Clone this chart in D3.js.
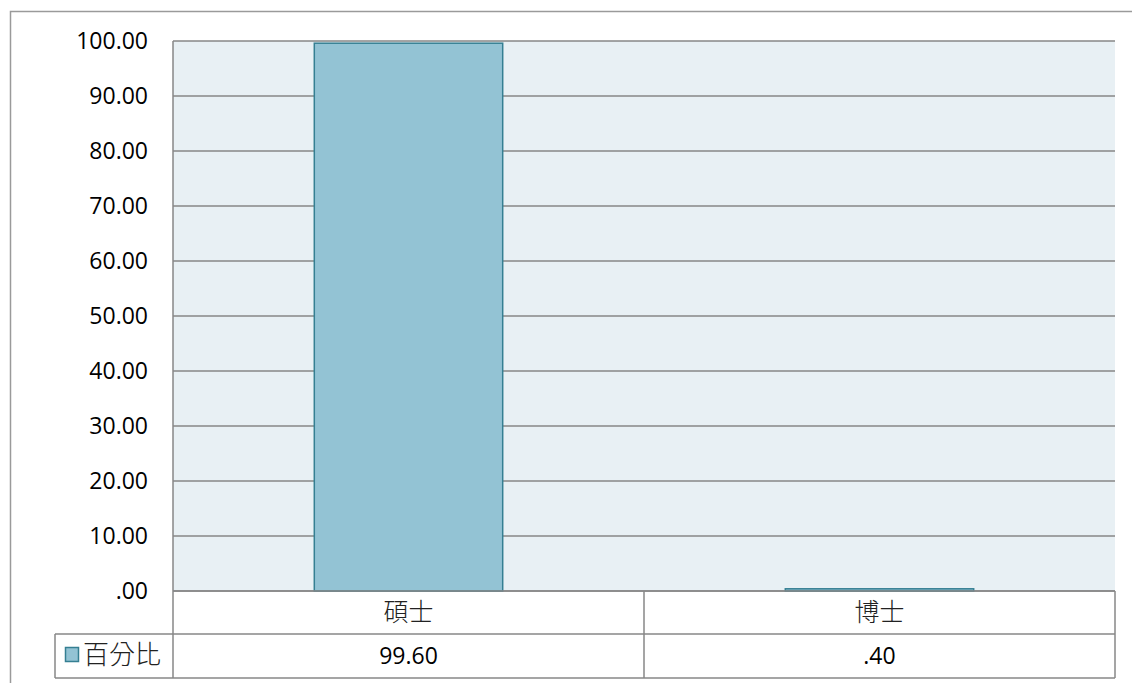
<!DOCTYPE html>
<html><head><meta charset="utf-8">
<script src="https://cdn.jsdelivr.net/npm/d3@7"></script>
<style>html,body{margin:0;padding:0;background:#fff;overflow:hidden}</style>
</head><body>
<script>
const categories = ["碩士", "博士"];
const values = [99.60, 0.40];
const valueLabels = ["99.60", ".40"];
const seriesName = "百分比";
const yTicks = [0, 10, 20, 30, 40, 50, 60, 70, 80, 90, 100];
const yTickLabels = [".00","10.00","20.00","30.00","40.00","50.00","60.00","70.00","80.00","90.00","100.00"];

const W = 1132, H = 683;
const svg = d3.select("body").append("svg").attr("width", W).attr("height", H);
const L = 173, R = 1115, T = 41, B = 591;
const row1 = 634, row2 = 678, legL = 55;
const latin = "'Open Sans', 'Noto Sans', sans-serif";
const cjk = "'Noto Sans CJK TC', sans-serif";
const grid = "#878787";

// outer border
svg.append("rect").attr("x", 10.5).attr("y", 11.5).attr("width", 1140).attr("height", 700)
  .attr("fill", "none").attr("stroke", "#9a9a9a").attr("stroke-width", 1.5);

const x = d3.scaleBand().domain(categories).range([L, R]).paddingInner(0).paddingOuter(0);
const y = d3.scaleLinear().domain([0, 100]).range([B, T]);

svg.append("rect").attr("x", L).attr("y", T).attr("width", R - L).attr("height", B - T).attr("fill", "#E8F0F4");

// grid lines
svg.append("g").selectAll("line").data(yTicks).join("line")
  .attr("x1", L).attr("x2", R).attr("y1", d => y(d)).attr("y2", d => y(d))
  .attr("stroke", grid).attr("stroke-width", 1.5);

// y axis labels
const yAxis = d3.axisLeft(y).tickValues(yTicks).tickSize(0).tickPadding(25)
  .tickFormat((d, i) => yTickLabels[i]);
const ya = svg.append("g").attr("transform", `translate(${L},0)`).call(yAxis);
ya.select(".domain").remove();
ya.selectAll("text").attr("font-family", latin).attr("font-size", 23).attr("fill", "#000").attr("dy", "0.34em");

// bars
const bw = x.bandwidth() * 0.4;
svg.append("g").selectAll("rect").data(values).join("rect")
  .attr("x", (d, i) => x(categories[i]) + x.bandwidth() / 2 - bw / 2)
  .attr("width", bw)
  .attr("y", d => y(d))
  .attr("height", d => Math.max(0, B - y(d)))
  .attr("fill", "#93C3D4").attr("stroke", "#357F92").attr("stroke-width", 1.5);

// left plot border
svg.append("line").attr("x1", L).attr("x2", L).attr("y1", T).attr("y2", row2)
  .attr("stroke", grid).attr("stroke-width", 1.5);

// data table
const tg = svg.append("g").attr("stroke", grid).attr("stroke-width", 1.5).attr("fill", "none");
tg.append("line").attr("x1", L).attr("x2", R).attr("y1", B).attr("y2", B);
tg.append("line").attr("x1", legL).attr("x2", R).attr("y1", row1).attr("y2", row1);
tg.append("line").attr("x1", legL).attr("x2", R).attr("y1", row2).attr("y2", row2);
tg.append("line").attr("x1", legL).attr("x2", legL).attr("y1", row1).attr("y2", row2);
tg.append("line").attr("x1", R).attr("x2", R).attr("y1", B).attr("y2", row2);
tg.selectAll("line.sep").data(categories.slice(1)).join("line").attr("class", "sep")
  .attr("x1", d => x(d)).attr("x2", d => x(d)).attr("y1", B).attr("y2", row2);

svg.append("g").selectAll("text").data(categories).join("text")
  .attr("x", d => x(d) + x.bandwidth() / 2).attr("y", 621)
  .attr("text-anchor", "middle").attr("font-family", cjk).attr("font-weight", 300)
  .attr("font-size", 25).attr("fill", "#222").text(d => d);

svg.append("g").selectAll("text").data(valueLabels).join("text")
  .attr("x", (d, i) => x(categories[i]) + x.bandwidth() / 2).attr("y", 664)
  .attr("text-anchor", "middle").attr("font-family", latin)
  .attr("font-size", 23).attr("fill", "#000").text(d => d);

// legend
svg.append("rect").attr("x", 65.5).attr("y", 647.5).attr("width", 13).attr("height", 14)
  .attr("fill", "#93C3D4").attr("stroke", "#357F92").attr("stroke-width", 1.5);
svg.append("text").attr("x", 83).attr("y", 664).attr("font-family", cjk).attr("font-weight", 300)
  .attr("font-size", 26).attr("fill", "#222").text(seriesName);
</script>
</body></html>
